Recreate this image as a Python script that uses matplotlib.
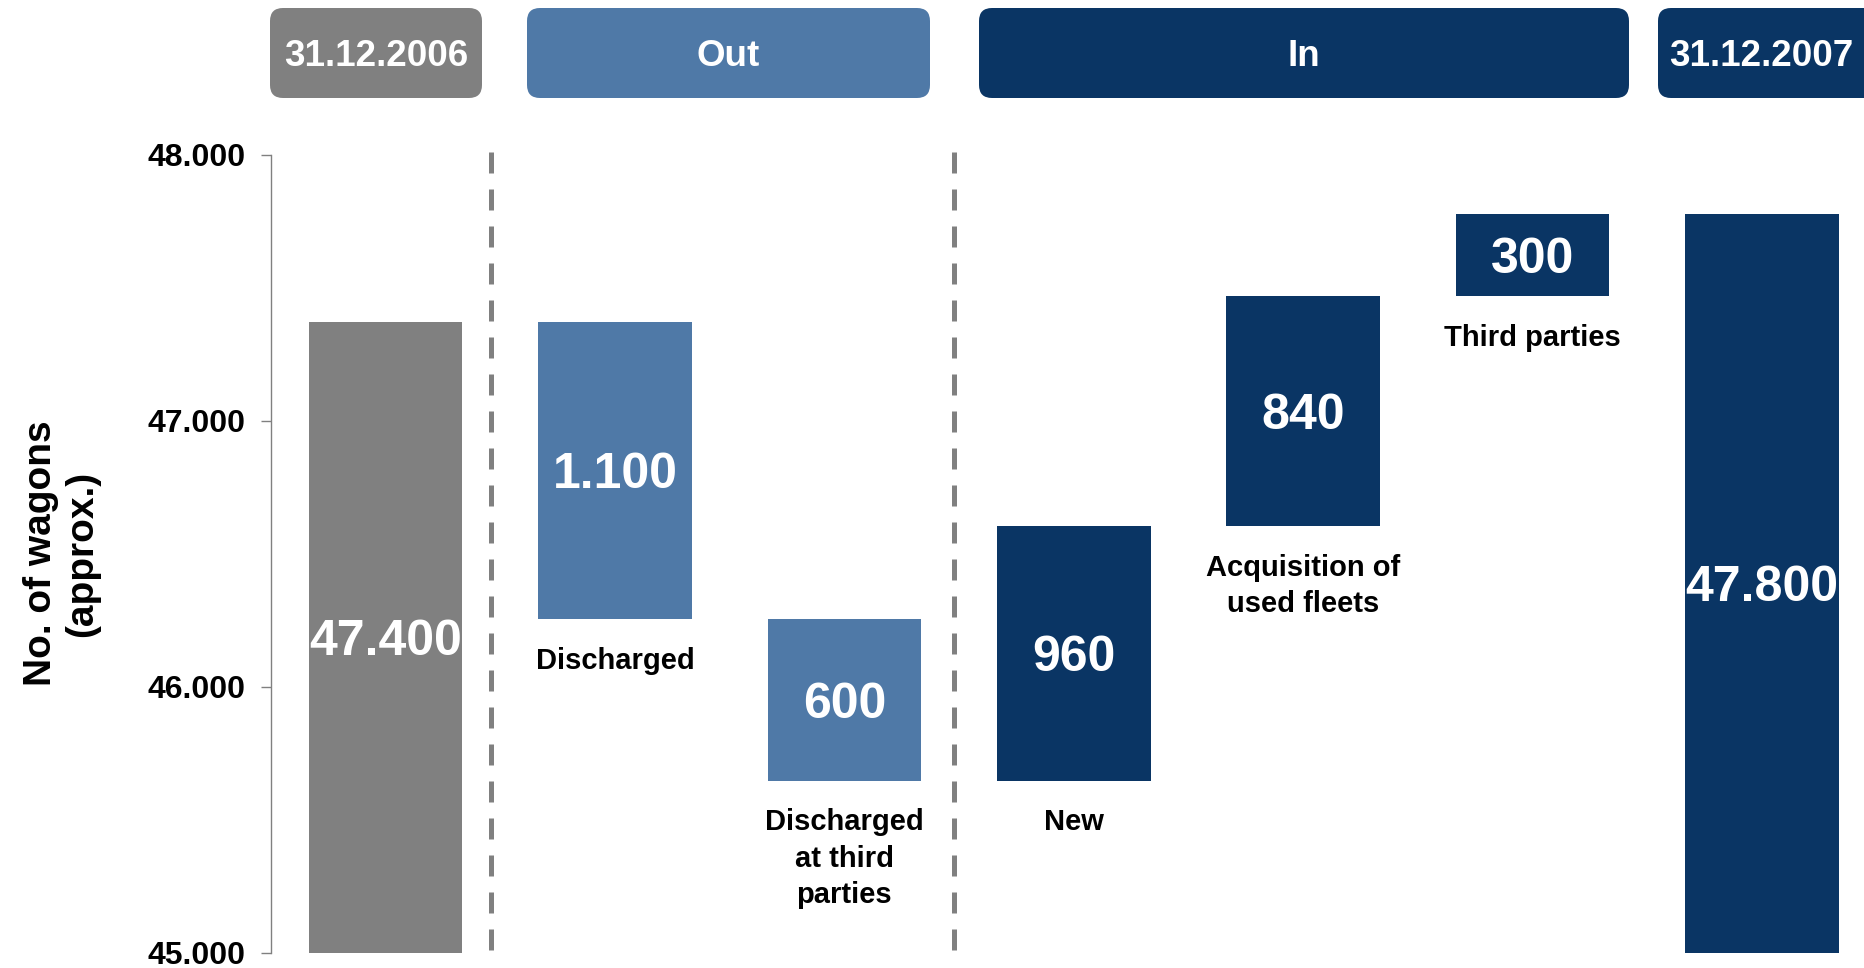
import numpy as np
import matplotlib
matplotlib.use("Agg")
import matplotlib.pyplot as plt
from matplotlib.patches import FancyBboxPatch

plt.rcParams['font.family'] = ['Liberation Sans', 'DejaVu Sans']

# data
start_total = 47370
changes = [-1115, -608, 957, 863, 308]
value_labels = ["47.400", "1.100", "600", "960", "840", "300", "47.800"]
cat_labels = ["", "Discharged", "Discharged\nat third\nparties", "New",
              "Acquisition of\nused fleets", "Third parties", ""]
yticks = [45000, 46000, 47000, 48000]
ytick_labels = ["45.000", "46.000", "47.000", "48.000"]
headers = ["31.12.2006", "Out", "In", "31.12.2007"]

GREY = "#808080"
LIGHT = "#4f79a7"
NAVY = "#0a3564"

# waterfall geometry
bottoms, heights, colors = [45000], [start_total - 45000], [GREY]
level = start_total
for c in changes:
    new = level + c
    bottoms.append(min(level, new))
    heights.append(abs(c))
    colors.append(LIGHT if c < 0 else NAVY)
    level = new
bottoms.append(45000)
heights.append(level - 45000)
colors.append(NAVY)
x = np.arange(len(heights))

fig = plt.figure(figsize=(18.65, 9.68), dpi=100)
ax = fig.add_axes([0.1453, 0.0158, 0.8547, 0.8245])

ax.bar(x, heights, bottom=bottoms, width=0.67, color=colors, zorder=2)

for i in range(len(x)):
    ax.annotate(value_labels[i], (x[i], bottoms[i] + heights[i] / 2),
                xytext=(0, -3.5), textcoords="offset points", color="white",
                fontsize=36, fontweight="bold", ha="center", va="center",
                zorder=3)
    if cat_labels[i]:
        ax.annotate(cat_labels[i], (x[i], bottoms[i]), xytext=(0, -20),
                    textcoords="offset points", ha="center", va="top",
                    fontsize=21, fontweight="bold", linespacing=1.38)

# separators (drawn top-down so the pattern starts with a dash at the top)
for xs in [0.46, 2.48]:
    ax.plot([xs, xs], [48011, 45000], color=GREY, lw=3.6,
            linestyle=(0, (4.2, 3.2)), solid_capstyle="butt",
            dash_capstyle="butt", clip_on=False, zorder=1)

ax.set_xlim(-0.5, 6.45)
ax.set_ylim(45000, 48000)
ax.set_yticks(yticks)
ax.set_yticklabels(ytick_labels, fontsize=23, fontweight="bold")
ax.set_xticks([])
for s in ["top", "right", "bottom"]:
    ax.spines[s].set_visible(False)
ax.spines["left"].set_color(GREY)
ax.spines["left"].set_linewidth(1)
ax.tick_params(axis="y", length=7, width=1, color=GREY, pad=11)
ax.set_ylabel("No. of wagons\n(approx.)", fontsize=28, fontweight="bold",
              linespacing=1.2)
ax.yaxis.set_label_coords(-0.107, 0.5)

# header boxes (pixel overlay)
hax = fig.add_axes([0, 0, 1, 1], facecolor="none")
hax.set_xlim(0, 1865)
hax.set_ylim(968, 0)
hax.axis("off")
spans = [(270, 482), (527, 930), (979, 1629), (1658, 1880)]
hcolors = [GREY, LIGHT, NAVY, NAVY]
for (x0, x1), col, txt in zip(spans, hcolors, headers):
    hax.add_patch(FancyBboxPatch((x0, 8), x1 - x0, 90,
                                 boxstyle="round,pad=0,rounding_size=13",
                                 fc=col, ec="none"))
    cx = (x0 + min(x1, 1865)) / 2
    hax.text(cx, 56, txt, color="white", fontsize=26.5, fontweight="bold",
             ha="center", va="center")

fig.savefig("out.png", dpi=100)
